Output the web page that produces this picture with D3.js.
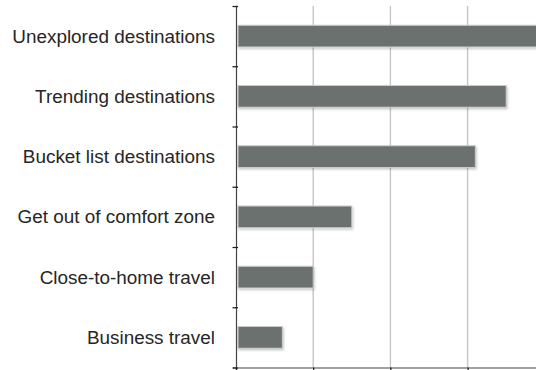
<!DOCTYPE html>
<html>
<head>
<meta charset="utf-8">
<script src="https://cdn.jsdelivr.net/npm/d3@7"></script>
<style>
  body { margin: 0; background: #fff; }
  svg { display: block; overflow: hidden; }
</style>
</head>
<body>
<script>
// categories top to bottom
const categories = [
  'Unexplored destinations',
  'Trending destinations',
  'Bucket list destinations',
  'Get out of comfort zone',
  'Close-to-home travel',
  'Business travel'
]
// bar lengths in gridline units
const values = [3.9, 3.5, 3.1, 1.5, 1.0, 0.6]
const xTicks = [0, 1, 2, 3, 4]

const width = 536
const height = 370
const margin = { top: 6, left: 236, bottom: 2.5 }
const unit = 77.2

const svg = d3.select('body')
  .append('svg')
  .attr('width', width)
  .attr('height', height)

// soft shadow behind bars
const defs = svg.append('defs')
defs.append('filter')
    .attr('id', 'shadow')
    .attr('x', '-10%').attr('y', '-30%')
    .attr('width', '120%').attr('height', '180%')
  .append('feDropShadow')
    .attr('dx', 1).attr('dy', 1.5)
    .attr('stdDeviation', 1.2)
    .attr('flood-color', '#000')
    .attr('flood-opacity', 0.22)

const bottom = height - margin.bottom

const xScale = d3.scaleLinear()
  .domain([0, 4])
  .range([margin.left, margin.left + 4 * unit])

const yScale = d3.scaleBand()
  .domain(categories)
  .range([margin.top, bottom])
  .paddingInner(0.64)
  .paddingOuter(0.32)

// gridlines
svg.append('g')
  .selectAll('line')
  .data(xTicks.slice(1))
  .enter()
  .append('line')
    .attr('x1', d => xScale(d))
    .attr('x2', d => xScale(d))
    .attr('y1', margin.top)
    .attr('y2', bottom)
    .attr('stroke', '#c6c6c6')
    .attr('stroke-width', 1.4)

// bars
svg.append('g')
  .selectAll('rect')
  .data(values)
  .enter()
  .append('rect')
    .attr('x', xScale(0) + 2)
    .attr('y', (d, i) => yScale(categories[i]))
    .attr('width', d => xScale(d) - xScale(0) - 2)
    .attr('height', yScale.bandwidth())
    .attr('fill', '#6b716e')
    .attr('stroke', '#c9cbc9')
    .attr('stroke-width', 1)
    .attr('filter', 'url(#shadow)')

// category labels
svg.append('g')
  .selectAll('text')
  .data(categories)
  .enter()
  .append('text')
    .text(d => d)
    .attr('x', 215)
    .attr('y', d => yScale(d) + yScale.bandwidth() / 2)
    .attr('text-anchor', 'end')
    .attr('dominant-baseline', 'central')
    .attr('font-family', '"Liberation Sans", Arial, sans-serif')
    .attr('font-size', 18.9)
    .attr('fill', '#262626')

// left axis with ticks between categories
const yTickScale = d3.scaleLinear()
  .domain([0, categories.length])
  .range([margin.top, bottom])

const yAxis = svg.append('g')
  .attr('transform', `translate(${margin.left},0)`)
  .call(d3.axisLeft(yTickScale)
    .tickValues(d3.range(categories.length + 1))
    .tickFormat('')
    .tickSizeOuter(0)
    .tickSize(3))
yAxis.selectAll('.tick line').attr('x2', -3.5).attr('x1', 2).attr('stroke', '#222').attr('stroke-width', 1.3)
yAxis.select('.domain').attr('stroke', '#444').attr('stroke-width', 1.2)

// bottom axis
const xAxis = svg.append('g')
  .attr('transform', `translate(0,${bottom})`)
  .call(d3.axisBottom(xScale)
    .tickValues(xTicks)
    .tickFormat('')
    .tickSizeOuter(0)
    .tickSize(3))
xAxis.selectAll('.tick line').attr('stroke', '#222').attr('stroke-width', 1.3)
xAxis.select('.domain').attr('stroke', '#444').attr('stroke-width', 1.2)
</script>
</body>
</html>
